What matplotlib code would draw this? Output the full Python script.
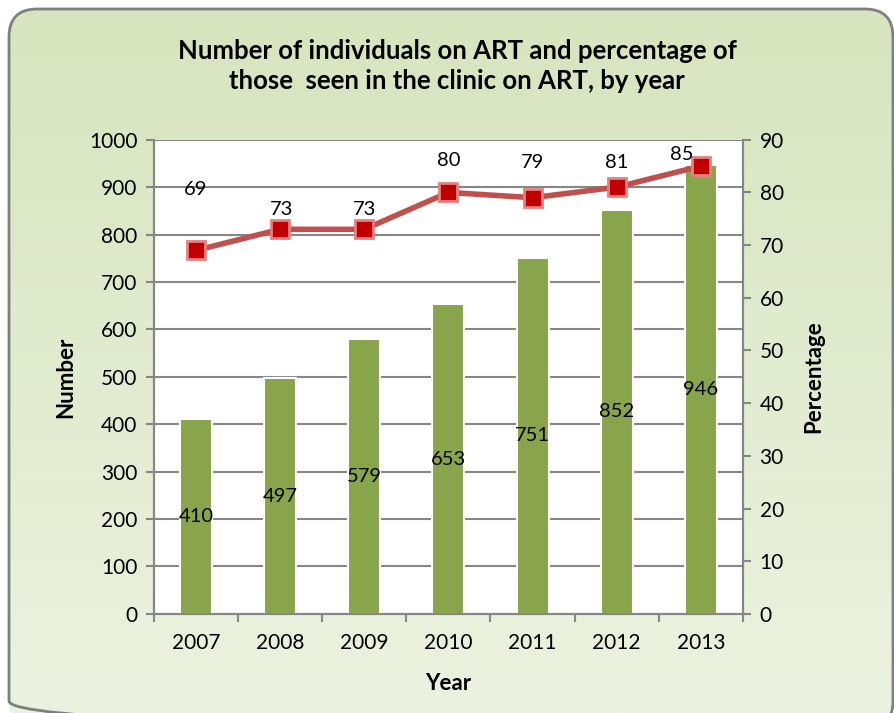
import matplotlib.pyplot as plt
import numpy as np
from matplotlib.patches import FancyBboxPatch

years = ['2007', '2008', '2009', '2010', '2011', '2012', '2013']
number_on_art = [410, 497, 579, 653, 751, 852, 946]
percent_on_art = [69, 73, 73, 80, 79, 81, 85]

# label offsets from the markers (points), as in the original layout
pct_label_dy = [44, 14, 14, 23, 25, 18, 8]
pct_label_dx = [0, 1, 0, 0, 0, 0, -14]

plt.rcParams['font.family'] = ['Lato', 'DejaVu Sans']

fig = plt.figure(figsize=(8.95, 7.13), dpi=100)

# background: rounded box with green gradient
bg = fig.add_axes([0, 0, 1, 1], zorder=-5)
bg.set_xlim(0, 895)
bg.set_ylim(713, 0)
bg.axis('off')
grad = np.linspace(0, 1, 256).reshape(-1, 1)
top_col = np.array([215, 228, 189]) / 255
bot_col = np.array([236, 242, 224]) / 255
img = top_col * (1 - grad[..., None]) + bot_col * grad[..., None]
im = bg.imshow(img, extent=[0, 895, 713, 0], aspect='auto')
box = FancyBboxPatch((9, 9), 884, 720, boxstyle='round,pad=0,rounding_size=28',
                     facecolor='none', edgecolor='#7F7F7F', linewidth=2)
bg.add_patch(box)
im.set_clip_path(box)

ax = fig.add_axes([0.172, 0.139, 0.658, 0.665])
ax.set_facecolor('white')
x = np.arange(len(years))
grid_col = '#868686'

ax.bar(x, number_on_art, width=0.38, color='#88A54B', edgecolor='white',
       linewidth=1.5, zorder=3)
for xi, v in zip(x, number_on_art):
    ax.text(xi, v / 2, str(v), ha='center', va='center', fontsize=14.5, zorder=6)

ax.set_ylim(0, 1000)
ax.set_xlim(-0.5, len(years) - 0.5)
ax.set_yticks(range(0, 1001, 100))
ax.yaxis.grid(True, color=grid_col, linewidth=1.5, zorder=0)
ax.set_axisbelow(True)
ax.set_xticks(x)
ax.set_xticklabels(years)
ax.set_xticks(np.arange(-0.5, len(years)), minor=True)
ax.tick_params(axis='x', which='major', length=0, pad=14, labelsize=15)
ax.tick_params(axis='x', which='minor', length=6, width=1.5, color=grid_col, direction='out')
ax.tick_params(axis='y', length=6, width=1.5, color=grid_col, labelsize=15, pad=6)
for s in ['left', 'bottom', 'right']:
    ax.spines[s].set_color(grid_col)
    ax.spines[s].set_linewidth(1.5)
ax.spines['top'].set_visible(False)
ax.set_xlabel('Year', fontsize=16, fontweight='bold', labelpad=14)
ax.set_ylabel('Number', fontsize=16, fontweight='bold', labelpad=9)

ax2 = ax.twinx()
ax2.set_ylim(0, 90)
ax2.set_yticks(range(0, 91, 10))
ax2.plot(x, percent_on_art, color='#C0504D', linewidth=4, zorder=4,
         marker='s', markersize=13, markerfacecolor='#C00000',
         markeredgecolor='#E58080', markeredgewidth=2)
for xi, v, dx, dy in zip(x, percent_on_art, pct_label_dx, pct_label_dy):
    ax2.annotate(str(v), (xi, v), xytext=(dx, dy), textcoords='offset points',
                 ha='center', va='center', fontsize=14.5, zorder=6)
ax2.tick_params(axis='y', length=6, width=1.5, color=grid_col, labelsize=15, pad=6)
for s in ['left', 'bottom', 'right']:
    ax2.spines[s].set_color(grid_col)
    ax2.spines[s].set_linewidth(1.5)
ax2.spines['top'].set_visible(False)
ax2.set_ylabel('Percentage', fontsize=16, fontweight='bold', labelpad=14)

fig.text(0.511, 0.907, 'Number of individuals on ART and percentage of\nthose  seen in the clinic on ART, by year',
         ha='center', va='center', fontsize=18.5, fontweight='bold', linespacing=1.3)

fig.savefig('out.png', dpi=100)
